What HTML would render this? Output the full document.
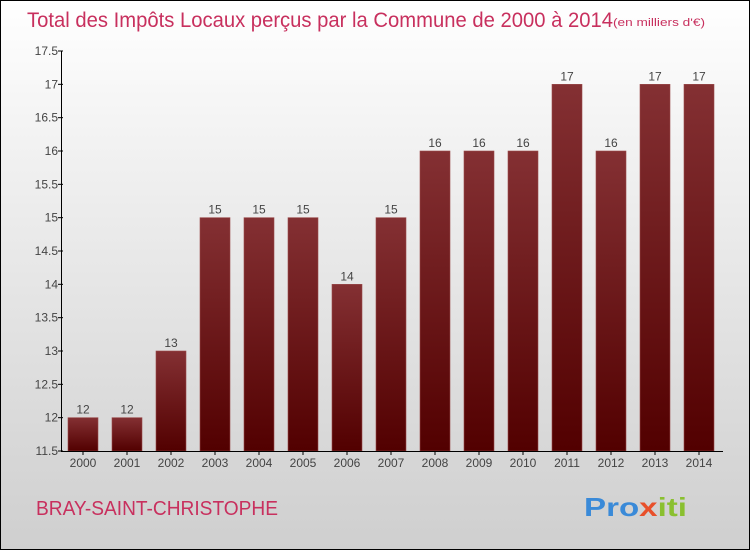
<!DOCTYPE html>
<html><head><meta charset="utf-8"><style>
body{margin:0}
#c{position:relative;width:748px;height:548px;border:1px solid #000;background:linear-gradient(#fff,#f0f0f0 30%,#d8d8d8 80%,#cfcfcf);overflow:hidden;font-family:"Liberation Sans",sans-serif}
</style></head><body>
<div id="c">
<svg id="s" width="748" height="548">
<defs><linearGradient id="g" x1="0" y1="0" x2="0" y2="1"><stop offset="0" stop-color="#843033"/><stop offset="1" stop-color="#520000"/></linearGradient></defs>
<text x="26" y="26" font-size="21" fill="#c8305e" textLength="586" lengthAdjust="spacingAndGlyphs">Total des Impôts Locaux perçus par la Commune de 2000 à 2014</text>
<text x="612" y="25" font-size="11" fill="#c8305e" textLength="92" lengthAdjust="spacingAndGlyphs">(en milliers d'€)</text>
<text x="35" y="514" font-size="20" fill="#c8305e" textLength="242" lengthAdjust="spacingAndGlyphs">BRAY-SAINT-CHRISTOPHE</text>
<text x="583" y="515" font-size="26" font-weight="bold" fill="#3a8ad8" textLength="103" lengthAdjust="spacingAndGlyphs">Pro<tspan fill="#e8502a">x</tspan><tspan fill="#8ac030">iti</tspan></text>
<g id="plot"></g>
</svg>
</div>
<script>
const years=["2000","2001","2002","2003","2004","2005","2006","2007","2008","2009","2010","2011","2012","2013","2014"];
const values=[12,12,13,15,15,15,14,15,16,16,16,17,16,17,17];
const ticks=[11.5,12,12.5,13,13.5,14,14.5,15,15.5,16,16.5,17,17.5];
const NS="http://www.w3.org/2000/svg";
const g=document.getElementById('plot');
const y=v=>450-(v-11.5)*66.667;
const x=i=>60+22+44*i;
function mk(t,a){const e=document.createElementNS(NS,t);for(const k in a)e.setAttribute(k,a[k]);g.appendChild(e);return e;}
values.forEach((v,i)=>{
 const r=mk('rect',{x:x(i)-15,y:y(v),width:30,height:450-y(v),fill:'url(#g)',stroke:'#9a4a4a','stroke-width':0.6});
 
 
 const t=mk('text',{x:x(i),y:y(v)-4,'text-anchor':'middle','font-size':12,fill:'#444'});t.textContent=v;
 
 
 const xl=mk('text',{x:x(i),y:466,'text-anchor':'middle','font-size':12,fill:'#444'});xl.textContent=years[i];
 
 
 mk('line',{x1:x(i),x2:x(i),y1:450,y2:454,stroke:'#000'});
});
ticks.forEach(t=>{
 mk('line',{x1:57,x2:62,y1:y(t),y2:y(t),stroke:'#000'});
 const l=mk('text',{x:57,y:y(t)+4,'text-anchor':'end','font-size':12,fill:'#444'});l.textContent=t;
 
 
});
const ya=mk('line',{x1:60.5,x2:60.5,y1:50,y2:450,stroke:'#000'});


const xa=mk('line',{x1:60,x2:722,y1:450.5,y2:450.5,stroke:'#000'});


</script>
</body></html>
